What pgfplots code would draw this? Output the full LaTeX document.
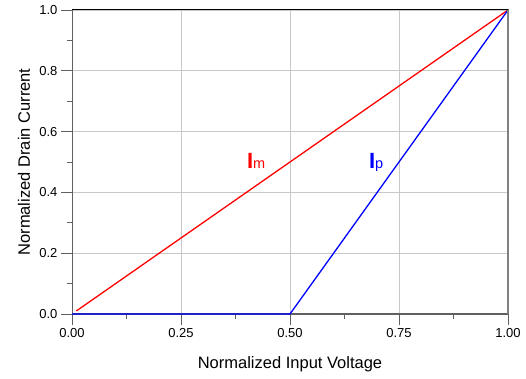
\documentclass[border=0pt]{standalone}
\usepackage{pgfplots}
\pgfplotsset{compat=1.18}
\usepackage{fontspec}
\setmainfont{Liberation Sans}
\definecolor{axgray}{HTML}{606060}
\definecolor{gridgray}{HTML}{C8C8C8}
\begin{document}
\begin{tikzpicture}
\begin{axis}[
  scale only axis,
  width=436pt, height=304pt,
  xmin=0, xmax=1, ymin=0, ymax=1,
  xtick={0,0.25,0.5,0.75,1},
  ytick={0,0.2,0.4,0.6,0.8,1},
  minor x tick num=1, minor y tick num=1,
  tick pos=left,
  tick align=outside,
  major tick length=11pt,
  minor tick length=5pt,
  every tick/.style={draw=axgray, line width=0.9pt},
  axis line style={draw=axgray, line width=1pt},
  grid=major,
  major grid style={draw=gridgray, line width=0.8pt},
  /pgf/number format/assume math mode=true,
  xticklabel style={/pgf/number format/.cd, fixed, fixed zerofill, precision=2},
  yticklabel style={/pgf/number format/.cd, fixed, fixed zerofill, precision=1},
  tick label style={font=\fontsize{13}{15}\selectfont},
  xlabel={Normalized Input Voltage},
  ylabel={Normalized Drain Current},
  label style={font=\fontsize{16.5}{19}\selectfont},
  xlabel style={at={(axis description cs:0.5,-0.164)}, anchor=center},
  ylabel style={at={(axis description cs:-0.11,0.5)}, anchor=center},
  clip=false,
]
\addplot[red, line width=1.3pt] coordinates {(0.01,0.01) (1,1)};
\addplot[blue, line width=1.3pt] coordinates {(0,0) (0.5,0) (1,1)};
\node[anchor=base west, inner sep=0pt, text=red] at (axis cs:0.401,0.477) {\fontsize{22}{25}\selectfont\textbf{I}\fontsize{14.5}{17}\selectfont m};
\node[anchor=base west, inner sep=0pt, text=blue] at (axis cs:0.681,0.477) {\fontsize{22}{25}\selectfont\textbf{I}\fontsize{14.5}{17}\selectfont p};
\draw[black, line width=1pt] (rel axis cs:0,1) -- (rel axis cs:1,1);
\draw[gray, line width=1.2pt] (rel axis cs:1,0) -- (rel axis cs:1,1);
\end{axis}
\pgfresetboundingbox
\path[use as bounding box] (-72pt,-65pt) rectangle (454pt,314pt);
\end{tikzpicture}
\end{document}
